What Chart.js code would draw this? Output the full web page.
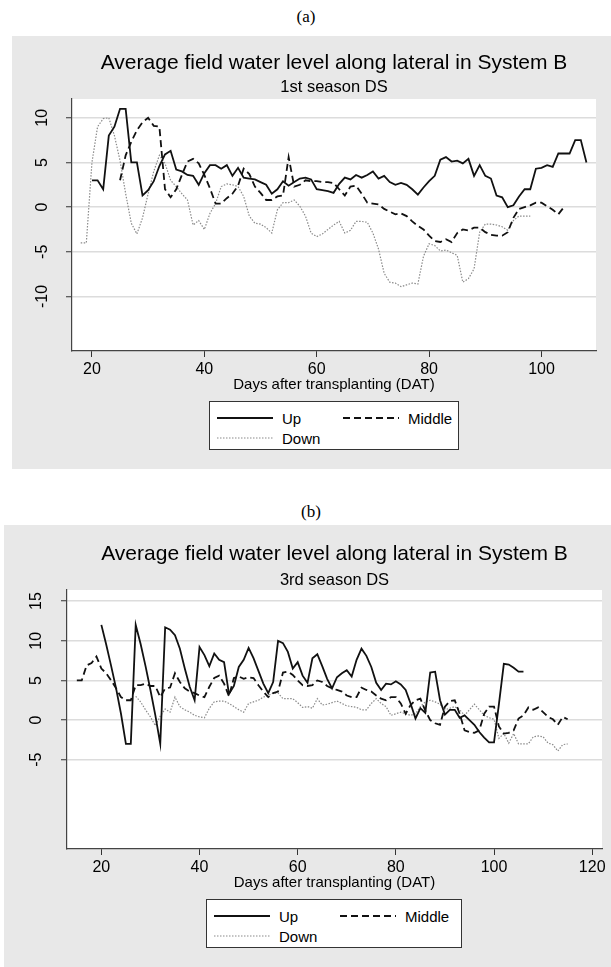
<!DOCTYPE html>
<html>
<head>
<meta charset="utf-8">
<script src="https://cdn.jsdelivr.net/npm/chart.js@4.4.1/dist/chart.umd.min.js"></script>
<style>
html,body{margin:0;padding:0;background:#fff;}
body{width:611px;height:967px;position:relative;overflow:hidden;font-family:'Liberation Sans',Arial,sans-serif;}
.panel{position:absolute;background:#e8e8e8;}
.panel canvas{position:absolute;left:0;top:0;display:block;}
.plabel{position:absolute;font-family:'Liberation Serif','Times New Roman',serif;font-size:17px;color:#000;transform:translate(-50%,-50%);white-space:nowrap;}
.legend{position:absolute;background:#fff;border:1px solid #333;box-sizing:border-box;}
.legend .item{position:absolute;display:flex;align-items:center;height:20px;transform:translateY(-50%);}
.legend svg{display:block;}
.legend span{font-size:15px;margin-left:9px;color:#000;white-space:nowrap;}
</style>
</head>
<body>
<div class="plabel" style="left:306px;top:17px">(a)</div>
<div class="panel" style="left:12px;top:36px;width:599px;height:433px">
  <canvas id="cA" width="599" height="433"></canvas>
  <div class="legend" id="legA" style="left:197px;top:365px;width:250px;height:49px"></div>
</div>
<div class="plabel" style="left:311px;top:512px">(b)</div>
<div class="panel" style="left:4px;top:525px;width:607px;height:442px">
  <canvas id="cB" width="607" height="442"></canvas>
  <div class="legend" id="legB" style="left:202px;top:374px;width:256px;height:49px"></div>
</div>
<script>
// ---------- DATA ----------
const seriesNames = ['Up', 'Middle', 'Down'];
const titleText = 'Average field water level along lateral in System B';
const subtitleA = '1st season DS';
const subtitleB = '3rd season DS';
const xTitle = 'Days after transplanting (DAT)';

const xTicksA = [20, 40, 60, 80, 100];
const yTicksA = [-10, -5, 0, 5, 10];
const xTicksB = [20, 40, 60, 80, 100, 120];
const yTicksB = [-5, 0, 5, 10, 15];

// (a) 1st season: days 18..108
const daysA = [18,19,20,21,22,23,24,25,26,27,28,29,30,31,32,33,34,35,36,37,38,39,40,41,42,43,44,45,46,47,48,49,50,51,52,53,54,55,56,57,58,59,60,61,62,63,64,65,66,67,68,69,70,71,72,73,74,75,76,77,78,79,80,81,82,83,84,85,86,87,88,89,90,91,92,93,94,95,96,97,98,99,100,101,102,103,104,105,106,107,108];
const upA = [null,null,
  3,3,2,8,9,11,11,5,5,1.3,
  1.9,2.9,4.6,5.9,6.3,4.2,4,3.6,3.5,2.5,
  3.8,4.7,4.7,4.3,4.7,3.5,4.4,3.3,3.2,3.1,
  2.8,2.5,1.5,2,2.9,2.4,2.8,3.2,3.3,3.1,
  2,1.9,1.8,1.6,2.6,3.3,3.1,3.6,3.3,3.6,
  4,3.2,3.5,2.8,2.5,2.7,2.5,2,1.4,2.2,
  2.9,3.5,5.3,5.6,5.1,5.2,4.9,5.4,3.5,4.7,
  3.5,3.2,1.3,1.1,0,0.2,1.2,2,2,4.3,
  4.4,4.7,4.5,6,6,6,7.5,7.5,5];
const midA = [null,null,null,null,null,null,null,
  3,5.8,7.3,8.6,9.5,
  10,9.1,9,2,1.1,2,3.6,5.1,5.4,4.9,
  3.6,2.1,0.4,0.4,1,1.5,2.4,4.3,3.7,2.3,
  1.6,0.8,0.8,1.2,1.3,5.6,2.3,2.5,3.0,2.9,
  2.9,2.8,2.8,2.7,2.0,1.3,2.3,2.4,1.5,0.5,
  0.4,0.3,-0.2,-0.5,-0.8,-0.7,-1.0,-1.6,-2.1,-2.5,
  -3.2,-3.8,-3.9,-3.6,-3.9,-2.9,-2.5,-2.6,-2.3,-2.3,
  -2.8,-3.1,-3.2,-3.2,-2.8,-1.2,-0.2,0,0.2,0.5,
  0.5,0.1,-0.3,-0.8,0,
  null,null,null,null];
const downA = [-4,-4,
  5,9,9.9,10,8,5.2,1.5,-1.8,-3,-1.2,
  1.5,4,5.8,4.9,3,2.3,1.5,0.8,-2,-1.5,
  -2.5,-0.7,0.4,2.3,2.6,2.5,2.3,1.2,-1.0,-1.8,
  -1.9,-2.3,-2.9,-0.3,0.5,0.5,0.8,0.1,-1.0,-2.9,
  -3.3,-3.0,-2.5,-2.0,-1.6,-2.9,-2.6,-1.6,-1.6,-1.7,
  -2.9,-4.7,-7.4,-8.4,-8.5,-8.9,-8.7,-8.5,-8.6,-5.5,
  -4.1,-4.3,-4.9,-4.8,-5.1,-5.4,-8.4,-8.0,-6.9,-2.8,
  -1.9,-1.9,-2.0,-2.2,-2.6,-1.5,-1.0,-1.0,-1.0,
  null,null,null,null,null,null,null,null,null,null];

// (b) 3rd season: days 15..115
const daysB = [15,16,17,18,19,20,21,22,23,24,25,26,27,28,29,30,31,32,33,34,35,36,37,38,39,40,41,42,43,44,45,46,47,48,49,50,51,52,53,54,55,56,57,58,59,60,61,62,63,64,65,66,67,68,69,70,71,72,73,74,75,76,77,78,79,80,81,82,83,84,85,86,87,88,89,90,91,92,93,94,95,96,97,98,99,100,101,102,103,104,105,106,107,108,109,110,111,112,113,114,115];
const upB = [null,null,null,null,null,
  12,9.5,6.8,4,0.8,-3,-3,12,9.6,6.8,
  3.8,0.6,-3,11.7,11.4,10.7,9,6.5,4.2,2.5,
  9.2,8.2,6.8,8.4,7.6,7.3,3.3,4.3,6.7,7.6,
  9.1,7.8,6.2,4.6,3.4,4.8,10,9.7,8.6,6.5,
  7.3,5.6,4.7,7.8,8.3,6.8,5.2,4,5.4,5.9,
  6.3,5.5,7.6,9,8.1,6.7,4.7,3.8,4.6,4.5,
  4.9,4.5,3.8,2.1,0.2,1.5,0.9,6,6.1,2.5,
  0.7,1.3,1.3,0.3,0.6,0,-0.6,-1.5,-2.2,-2.8,
  -2.8,2,7.1,7,6.6,6.1,6.1,
  null,null,null,null,null,null,null,null,null];
const midB = [5,5,6.9,7.2,8,
  6.5,5.9,5,4,2.9,2.5,2.5,4.4,4.4,4.6,
  4.3,4.3,2.9,4,4.1,5.9,4.8,4,3.6,3.4,
  3.1,2.9,4.2,5.3,5.6,4.6,3.0,5.3,5.5,5.2,
  5.4,5.3,4.4,3.6,2.9,3.4,3.6,6,6.1,5.7,
  5,4.4,4.3,4.4,5,4.8,4.3,4,3.8,3.6,
  3.1,2.9,2.9,4.1,3.8,3.6,3.1,2.7,2.5,2.9,
  2.9,2.1,0.8,1.9,2.5,2.7,1.2,0,-0.4,-0.6,
  1.7,2.4,2.5,0.8,-1.3,-1.5,-1.6,-1.3,0.8,1.7,
  1.7,-0.8,-1.7,-1.6,-1.3,0.2,0.6,1.6,1.3,1.6,
  1,0.4,0.1,-0.6,0.4,0.1];
const downB = [null,null,null,null,null,null,null,null,null,null,null,null,
  3,2.3,1.3,
  0.4,-0.7,0.5,1.4,1,2.9,1.7,1.3,1,0.6,
  0.4,0.3,1.5,2.3,2.4,2.4,2.1,1.7,1.3,1,
  2.1,2.3,2.5,2.9,3.1,3.4,3.4,2.7,2.7,2.7,
  2.2,1.6,1.7,1.5,2.7,1.9,2,2.2,2.4,2.1,
  1.8,1.7,1.6,1.3,1.3,2.1,2.7,2.1,1.7,0.6,
  0.8,1,0.8,0.6,0.8,1.7,2.3,2.5,2.3,2,
  1.3,1.5,1.7,1.3,0.6,1.3,2,1.3,0.6,0.3,
  0.1,-2.3,-1.7,-2.9,-1.7,-3,-3,-3,-2.1,-2,
  -2.1,-2.9,-3.1,-3.9,-3.1,-3];

// ---------- STYLES ----------
Chart.defaults.font.family = "'Liberation Sans', Arial, Helvetica, sans-serif";
Chart.defaults.color = '#000';

const lineStyles = [
  {color: '#111', width: 1.8, dash: []},
  {color: '#111', width: 1.8, dash: [7, 4]},
  {color: '#8a8a8a', width: 1.2, dash: [1.5, 1.5]}
];

const plotBg = {
  id: 'plotBg',
  beforeDraw(c) {
    const {ctx, chartArea: a} = c;
    ctx.save();
    ctx.fillStyle = '#fff';
    ctx.fillRect(a.left, a.top, a.right - a.left, a.bottom - a.top);
    ctx.restore();
  }
};

function toPoints(days, vals) {
  return days.map((d, i) => ({x: d, y: vals[i]}));
}

function makeChart(id, days, series, sub, cfg) {
  const datasets = series.map((vals, i) => ({
    label: seriesNames[i],
    data: toPoints(days, vals),
    borderColor: lineStyles[i].color,
    borderWidth: lineStyles[i].width,
    borderDash: lineStyles[i].dash,
    borderJoinStyle: 'miter',
    borderCapStyle: 'butt',
    pointRadius: 0,
    fill: false,
    tension: 0,
    spanGaps: false
  }));
  return new Chart(document.getElementById(id), {
    type: 'line',
    data: {datasets},
    plugins: [plotBg],
    options: {
      responsive: false,
      animation: false,
      devicePixelRatio: 1,
      layout: {padding: {top: 0, left: 0, right: cfg.padRight, bottom: cfg.padBottom}},
      plugins: {
        legend: {display: false},
        tooltip: {enabled: false},
        title: {display: true, text: titleText, fullSize: false, color: '#000',
          font: {size: 21, weight: 'normal', lineHeight: 1.2}, padding: {top: cfg.tTop, bottom: 0}},
        subtitle: {display: true, text: sub, fullSize: false, color: '#000',
          font: {size: 16.5, weight: 'normal', lineHeight: 1.2}, padding: {top: cfg.sTop, bottom: cfg.sBot}}
      },
      scales: {
        x: {
          type: 'linear', min: cfg.xMin, max: cfg.xMax,
          afterBuildTicks: s => { s.ticks = cfg.xTicks.map(v => ({value: v})); },
          afterFit: s => { s.height = cfg.xHeight; },
          grid: {drawOnChartArea: false, drawTicks: true, tickLength: 6, tickColor: '#333', tickWidth: 1},
          border: {display: true, color: '#444', width: 1.2},
          ticks: {color: '#000', font: {size: 16, lineHeight: 1}, padding: 5, minRotation: 0, maxRotation: 0, autoSkip: false},
          title: {display: true, text: xTitle, color: '#000', font: {size: 15, lineHeight: 1}, padding: {top: 0, bottom: 0}}
        },
        y: {
          type: 'linear', min: cfg.yMin, max: cfg.yMax,
          afterBuildTicks: s => { s.ticks = cfg.yTicks.map(v => ({value: v})); },
          afterFit: s => { s.width = cfg.yWidth; },
          grid: {color: '#dcdcdc', lineWidth: 1.5, drawTicks: true, tickLength: 6, tickColor: '#333', tickWidth: 1},
          border: {display: true, color: '#444', width: 1.2},
          ticks: {color: '#000', font: {size: 16, lineHeight: 1}, padding: cfg.yPad, minRotation: 90, maxRotation: 90,
            crossAlign: 'center', autoSkip: false, callback: v => String(v)}
        }
      }
    }
  });
}

function buildLegend(id, chart) {
  const box = document.getElementById(id);
  const pos = [{x: 7, y: 16}, {x: 133, y: 16}, {x: 7, y: 36}];
  chart.data.datasets.forEach((ds, i) => {
    const it = document.createElement('div');
    it.className = 'item';
    it.style.left = pos[i].x + 'px';
    it.style.top = pos[i].y + 'px';
    const ns = 'http://www.w3.org/2000/svg';
    const svg = document.createElementNS(ns, 'svg');
    svg.setAttribute('width', '56'); svg.setAttribute('height', '6');
    const ln = document.createElementNS(ns, 'line');
    ln.setAttribute('x1', '0'); ln.setAttribute('x2', '56');
    ln.setAttribute('y1', '3'); ln.setAttribute('y2', '3');
    ln.setAttribute('stroke', ds.borderColor);
    ln.setAttribute('stroke-width', ds.borderWidth);
    if (ds.borderDash.length) ln.setAttribute('stroke-dasharray', ds.borderDash.join(' '));
    svg.appendChild(ln);
    const sp = document.createElement('span');
    sp.textContent = ds.label;
    it.appendChild(svg); it.appendChild(sp);
    box.appendChild(it);
  });
}

const chartA = makeChart('cA', daysA, [upA, midA, downA], subtitleA, {
  xMin: 16.45, xMax: 109.7, yMin: -16.1, yMax: 12.1,
  xTicks: xTicksA, yTicks: yTicksA,
  padRight: 15, padBottom: 77, xHeight: 41, yWidth: 60, yPad: 11.4,
  tTop: 14.7, sTop: 2.0, sBot: 1.3
});
const chartB = makeChart('cB', daysB, [upB, midB, downB], subtitleB, {
  xMin: 13, xMax: 122, yMin: -16.25, yMax: 16.4,
  xTicks: xTicksB, yTicks: yTicksB,
  padRight: 9, padBottom: 77, xHeight: 41, yWidth: 63, yPad: 15.1,
  tTop: 16.2, sTop: 3.7, sBot: 0.1
});
buildLegend('legA', chartA);
buildLegend('legB', chartB);
</script>
</body>
</html>
